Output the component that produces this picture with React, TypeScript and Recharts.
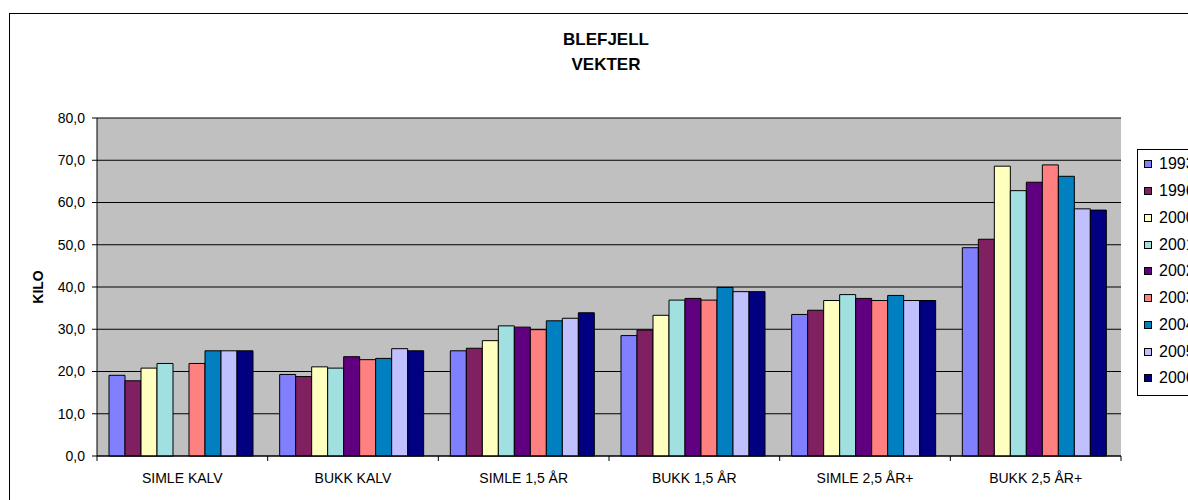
import { BarChart, Bar, XAxis, YAxis, CartesianGrid, Legend, ReferenceArea } from 'recharts';

const categories = ['SIMLE KALV', 'BUKK KALV', 'SIMLE 1,5 ÅR', 'BUKK 1,5 ÅR', 'SIMLE 2,5 ÅR+', 'BUKK 2,5 ÅR+'];
const years = ['1993', '1996', '2000', '2001', '2002', '2003', '2004', '2005', '2006'];
const colors = ['#8080FF', '#802060', '#FFFFC0', '#A0E0E0', '#600080', '#FF8080', '#0080C0', '#C0C0FF', '#000080'];

const v1993 = [19.1, 19.3, 24.9, 28.5, 33.5, 49.3];
const v1996 = [17.8, 18.8, 25.5, 29.8, 34.5, 51.3];
const v2000 = [20.8, 21.1, 27.3, 33.3, 36.8, 68.6];
const v2001 = [21.9, 20.8, 30.8, 36.9, 38.2, 62.8];
const v2002 = [null, 23.5, 30.5, 37.3, 37.3, 64.8];
const v2003 = [21.9, 22.8, 29.9, 36.9, 36.8, 68.9];
const v2004 = [24.9, 23.1, 32.0, 39.9, 38.0, 66.2];
const v2005 = [24.9, 25.4, 32.6, 38.9, 36.8, 58.5];
const v2006 = [24.9, 24.9, 33.9, 38.9, 36.8, 58.2];

const yTicks = [0, 10, 20, 30, 40, 50, 60, 70, 80];

const seriesValues = [v1993, v1996, v2000, v2001, v2002, v2003, v2004, v2005, v2006];

const data = categories.map((name, i) => {
    const row: Record<string, string | number | null> = { name };
    years.forEach((y, s) => { row[y] = seriesValues[s][i]; });
    return row;
});

const FONT = 'Arial, "Liberation Sans", sans-serif';
const PLOT_W = 1188 - 97 - 67;

const CategoryTick = (props: any) => {
    const { x, y, payload, index } = props;
    const half = payload.offset || PLOT_W / categories.length / 2;
    return (
        <g>
            <line x1={x - half} x2={x - half} y1={y} y2={y + 5} stroke="#000" />
            {index === categories.length - 1 && (
                <line x1={x + half} x2={x + half} y1={y} y2={y + 5} stroke="#000" />
            )}
            <text x={x} y={y + 27} textAnchor="middle" fontSize={14} fontFamily={FONT} fill="#000">
                {payload.value}
            </text>
        </g>
    );
};

const LegendBox = ({ payload }: any) => (
    <div style={{ border: '1px solid #000', background: '#fff', padding: '1px 0 3px 0', fontFamily: FONT }}>
        {(payload || []).map((p: any) => (
            <div key={p.value} style={{ height: 26.75, display: 'flex', alignItems: 'center', paddingLeft: 6 }}>
                <span style={{ width: 6, height: 6, background: p.color, border: '1px solid #000', marginRight: 7 }} />
                <span style={{ fontSize: 16, color: '#000' }}>{p.value}</span>
            </div>
        ))}
    </div>
);

export default function App() {
    return (
        <div style={{ position: 'absolute', left: 0, top: 0, width: 1188, height: 500, overflow: 'hidden', background: '#fff' }}>
            <div style={{ position: 'absolute', left: 9, top: 13, width: 1400, height: 700, border: '1px solid #000' }} />
            <div style={{ position: 'absolute', left: 0, top: 27, width: 1212, textAlign: 'center', fontFamily: FONT, fontWeight: 'bold', fontSize: 17, lineHeight: '25px', color: '#000' }}>
                BLEFJELL<br />VEKTER
            </div>
            <div style={{ position: 'absolute', left: 0, top: 0 }}>
                <BarChart
                    width={1188}
                    height={500}
                    data={data}
                    margin={{ top: 118, right: 67, left: 0, bottom: 0 }}
                    barCategoryGap={12}
                    barGap={0}
                >
                    <CartesianGrid fill="#C0C0C0" stroke="#000" vertical={false} horizontalValues={yTicks} />
                    <ReferenceArea fill="none" stroke="#808080" />
                    <XAxis
                        dataKey="name"
                        height={44}
                        tickLine={false}
                        tickSize={0}
                        tickMargin={0}
                        axisLine={{ stroke: '#000' }}
                        tick={<CategoryTick />}
                        interval={0}
                    />
                    <YAxis
                        width={97}
                        domain={[0, 80]}
                        ticks={yTicks}
                        interval={0}
                        tickSize={5}
                        tickMargin={7}
                        axisLine={{ stroke: '#000' }}
                        tickLine={{ stroke: '#000' }}
                        tick={{ fontSize: 14, fontFamily: FONT, fill: '#000' }}
                        tickFormatter={(v: number) => v.toFixed(1).replace('.', ',')}
                        label={{ value: 'KILO', angle: -90, position: 'center', dx: -10, style: { fontSize: 14, fontWeight: 'bold', fontFamily: FONT, fill: '#000' } }}
                    />
                    <Legend
                        layout="vertical"
                        align="center"
                        verticalAlign="middle"
                        wrapperStyle={{ left: 1137, top: 149, width: 80 }}
                        content={<LegendBox />}
                    />
                    {years.map((y, s) => (
                        <Bar key={y} dataKey={y} fill={colors[s]} stroke="#000" strokeWidth={1} isAnimationActive={false} />
                    ))}
                </BarChart>
            </div>
        </div>
    );
}
